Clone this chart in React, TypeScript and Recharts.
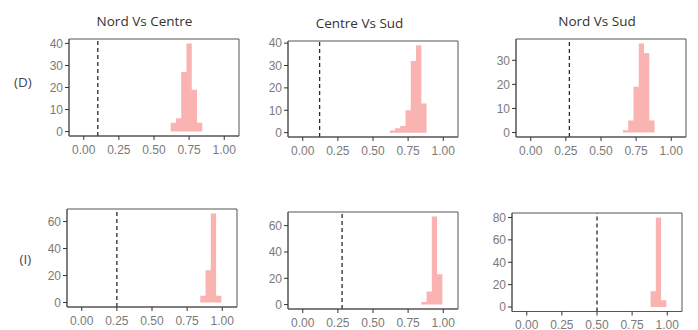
import React from "react";
import { ComposedChart, Area, XAxis, YAxis, ReferenceLine, ReferenceArea } from "recharts";

// ---- data ----
const binWidth = 0.0375;
const xTicks = [0, 0.25, 0.5, 0.75, 1];
const colTitles = ["Nord Vs Centre", "Centre Vs Sud", "Nord Vs Sud"];
const rowLabels = ["(D)", "(I)"];

const ncD_bins = [0.6375, 0.675, 0.7125, 0.75, 0.7875, 0.825];
const ncD_counts = [4, 6, 27, 40, 19, 4];
const ncD_obs = 0.1;
const ncD_yTicks = [0, 10, 20, 30, 40];

const csD_bins = [0.6375, 0.675, 0.7125, 0.75, 0.7875, 0.825, 0.8625];
const csD_counts = [1, 2, 3, 10, 32, 39, 13];
const csD_obs = 0.12;
const csD_yTicks = [0, 10, 20, 30, 40];

const nsD_bins = [0.675, 0.7125, 0.75, 0.7875, 0.825, 0.8625];
const nsD_counts = [1, 5, 19, 37, 33, 5];
const nsD_obs = 0.275;
const nsD_yTicks = [0, 10, 20, 30];

const ncI_bins = [0.8625, 0.9, 0.9375, 0.975];
const ncI_counts = [5, 24, 66, 5];
const ncI_obs = 0.25;
const ncI_yTicks = [0, 20, 40, 60];

const csI_bins = [0.8625, 0.9, 0.9375, 0.975];
const csI_counts = [2, 10, 67, 23];
const csI_obs = 0.28;
const csI_yTicks = [0, 20, 40, 60];

const nsI_bins = [0.9, 0.9375, 0.975];
const nsI_counts = [14, 80, 6];
const nsI_obs = 0.5;
const nsI_yTicks = [0, 20, 40, 60, 80];

// ---- layout (plot box of each panel, in page pixels) ----
const boxes = [
  { x: 69, y: 39, w: 170, h: 97 },
  { x: 288, y: 40.5, w: 170, h: 96 },
  { x: 515.5, y: 38.5, w: 170, h: 98 },
  { x: 66.5, y: 209, w: 170, h: 98 },
  { x: 288, y: 211.5, w: 170, h: 97 },
  { x: 512, y: 212.5, w: 170, h: 98.5 },
];

const series = [
  { bins: ncD_bins, counts: ncD_counts, obs: ncD_obs, yTicks: ncD_yTicks },
  { bins: csD_bins, counts: csD_counts, obs: csD_obs, yTicks: csD_yTicks },
  { bins: nsD_bins, counts: nsD_counts, obs: nsD_obs, yTicks: nsD_yTicks },
  { bins: ncI_bins, counts: ncI_counts, obs: ncI_obs, yTicks: ncI_yTicks },
  { bins: csI_bins, counts: csI_counts, obs: csI_obs, yTicks: csI_yTicks },
  { bins: nsI_bins, counts: nsI_counts, obs: nsI_obs, yTicks: nsI_yTicks },
];

const titlePos = [
  { x: 144.5, y: 25.7 },
  { x: 359.5, y: 28.3 },
  { x: 597, y: 25.7 },
];
const rowPos = [
  { x: 22.8, y: 86.7 },
  { x: 25.3, y: 264.3 },
];

const tickStyle = { fontFamily: "Liberation Sans, Arial, sans-serif", fontSize: 12, fill: "#7a7a7a" };
const BORDER = "#555";
const LEFT = 50;
const TOP = 5;
const RIGHT = 5;
const BOTTOM = 30;

function buildTable(bins: number[], counts: number[]) {
  const rows = bins.map((c, i) => ({ x: c - binWidth / 2, y: counts[i] }));
  rows.push({ x: bins[bins.length - 1] + binWidth / 2, y: 0 });
  return rows;
}

function Panel({ idx }: { idx: number }) {
  const s = series[idx];
  const b = boxes[idx];
  const data = buildTable(s.bins, s.counts);
  const maxC = Math.max(...s.counts);
  const yDomain: [number, number] = [-0.05 * maxC, 1.05 * maxC];
  const xDomain: [number, number] = [-0.105, 1.105];
  return (
    <div style={{ position: "absolute", left: b.x - LEFT, top: b.y - TOP }}>
      <ComposedChart
        width={b.w + LEFT + RIGHT}
        height={b.h + TOP + BOTTOM}
        data={data}
        margin={{ top: TOP, right: RIGHT, bottom: 0, left: 0 }}
      >
        <XAxis
          dataKey="x"
          type="number"
          domain={xDomain}
          ticks={xTicks}
          allowDataOverflow
          height={BOTTOM}
          tickFormatter={(v: number) => v.toFixed(2)}
          tick={tickStyle}
          tickSize={4}
          tickMargin={5}
          axisLine={{ stroke: BORDER }}
          tickLine={{ stroke: "#333" }}
          interval={0}
        />
        <YAxis
          type="number"
          domain={yDomain}
          ticks={s.yTicks}
          allowDataOverflow
          width={LEFT}
          tick={tickStyle}
          tickSize={4}
          tickMargin={2}
          axisLine={{ stroke: BORDER }}
          tickLine={{ stroke: "#333" }}
          interval={0}
        />
        <Area
          type="stepAfter"
          dataKey="y"
          baseValue={0}
          stroke="none"
          fill="#f9b3b1"
          fillOpacity={1}
          isAnimationActive={false}
          dot={false}
          activeDot={false}
        />
        <ReferenceLine
          x={s.obs}
          stroke="#2a2a2a"
          strokeWidth={1.3}
          strokeDasharray="4 3"
        />
        <ReferenceArea
          x1={xDomain[0]}
          x2={xDomain[1]}
          y1={yDomain[0]}
          y2={yDomain[1]}
          ifOverflow="visible"
          fill="none"
          fillOpacity={0}
          stroke={BORDER}
          strokeWidth={1}
        />
      </ComposedChart>
    </div>
  );
}

export default function App() {
  return (
    <div style={{ position: "absolute", left: 0, top: 0, width: 698, height: 330, background: "#fff", overflow: "hidden" }}>
      {series.map((_, i) => (
        <Panel key={i} idx={i} />
      ))}
      <svg width={698} height={330} style={{ position: "absolute", left: 0, top: 0, pointerEvents: "none" }}>
        {colTitles.map((t, i) => (
          <text
            key={t}
            x={titlePos[i].x}
            y={titlePos[i].y}
            textAnchor="middle"
            fontFamily="Open Sans, sans-serif"
            fontSize={13.5}
            fill="#333"
          >
            {t}
          </text>
        ))}
        {rowLabels.map((t, i) => (
          <text
            key={t}
            x={rowPos[i].x}
            y={rowPos[i].y}
            textAnchor="middle"
            fontFamily="Open Sans, sans-serif"
            fontSize={13.5}
            fill="#454552"
          >
            {t}
          </text>
        ))}
      </svg>
    </div>
  );
}
